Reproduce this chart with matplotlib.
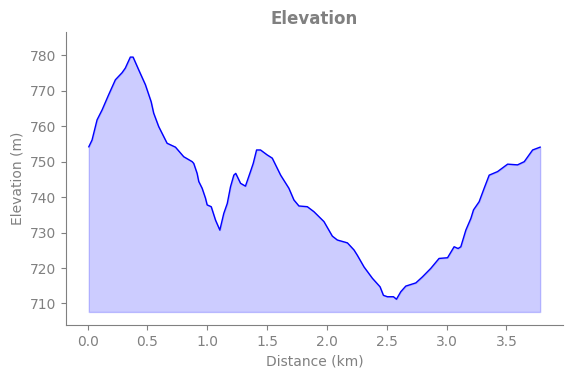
"""
Elevation profile chart
"""

import matplotlib
matplotlib.use('Agg')
import matplotlib.pyplot as plt

# distance (km) and elevation (m)
distance_km = [0.01, 0.037, 0.079, 0.121, 0.176, 0.232, 0.288, 0.315, 0.357, 0.380,
               0.427, 0.483, 0.531, 0.552, 0.594, 0.664, 0.734, 0.803, 0.874, 0.887,
               0.915, 0.929, 0.957, 0.985, 0.999, 1.033, 1.069, 1.105, 1.138, 1.167,
               1.194, 1.222, 1.238, 1.278, 1.319, 1.361, 1.384, 1.412, 1.445, 1.501,
               1.543, 1.613, 1.682, 1.724, 1.766, 1.836, 1.891, 1.975, 2.045, 2.087,
               2.171, 2.226, 2.254, 2.310, 2.380, 2.444, 2.472, 2.505, 2.556, 2.581,
               2.617, 2.659, 2.743, 2.798, 2.868, 2.937, 3.008, 3.063, 3.096, 3.119,
               3.161, 3.203, 3.225, 3.272, 3.314, 3.356, 3.426, 3.510, 3.593, 3.649,
               3.719, 3.782]
elevation_m = [754.2, 756.1, 761.8, 764.6, 768.9, 773.1, 775.1, 776.4, 779.5, 779.5,
               775.9, 771.7, 766.9, 763.7, 759.9, 755.2, 754.1, 751.4, 750.0, 749.5,
               746.7, 744.4, 742.5, 739.7, 737.8, 737.3, 733.5, 730.7, 735.4, 738.2,
               742.9, 746.2, 746.7, 743.9, 743.1, 747.2, 749.5, 753.3, 753.3, 751.9,
               751.0, 746.2, 742.5, 739.2, 737.5, 737.3, 735.9, 733.1, 729.0, 727.9,
               727.1, 725.1, 723.6, 720.3, 717.1, 714.7, 712.3, 711.9, 711.9, 711.2,
               713.3, 714.9, 715.8, 717.5, 719.9, 722.7, 722.9, 726.0, 725.5, 726.0,
               730.7, 734.0, 736.4, 738.7, 742.5, 746.2, 747.2, 749.3, 749.1, 750.0,
               753.3, 754.1]
fill_base = 707.6

GREY = 'grey'


def plot_elevation():
    fig = plt.figure(figsize=(5.71, 3.78), dpi=100)
    ax = fig.add_axes([0.116, 0.140, 0.8695, 0.7746])

    ax.fill_between(distance_km, elevation_m, fill_base, color='blue', alpha=0.2)
    ax.plot(distance_km, elevation_m, color='blue', linewidth=1)

    ax.set_ylim(703.9, 786.5)
    ax.set_yticks([710, 720, 730, 740, 750, 760, 770, 780])

    ax.set_title('Elevation', color=GREY, fontsize=12, fontweight='bold')
    ax.set_xlabel('Distance (km)', color=GREY)
    ax.set_ylabel('Elevation (m)', color=GREY)

    ax.spines['top'].set_visible(False)
    ax.spines['right'].set_visible(False)
    ax.spines['left'].set_color(GREY)
    ax.spines['bottom'].set_color(GREY)
    ax.tick_params(colors=GREY)

    fig.savefig('out.png', dpi=100)


if __name__ == "__main__":
    plot_elevation()
